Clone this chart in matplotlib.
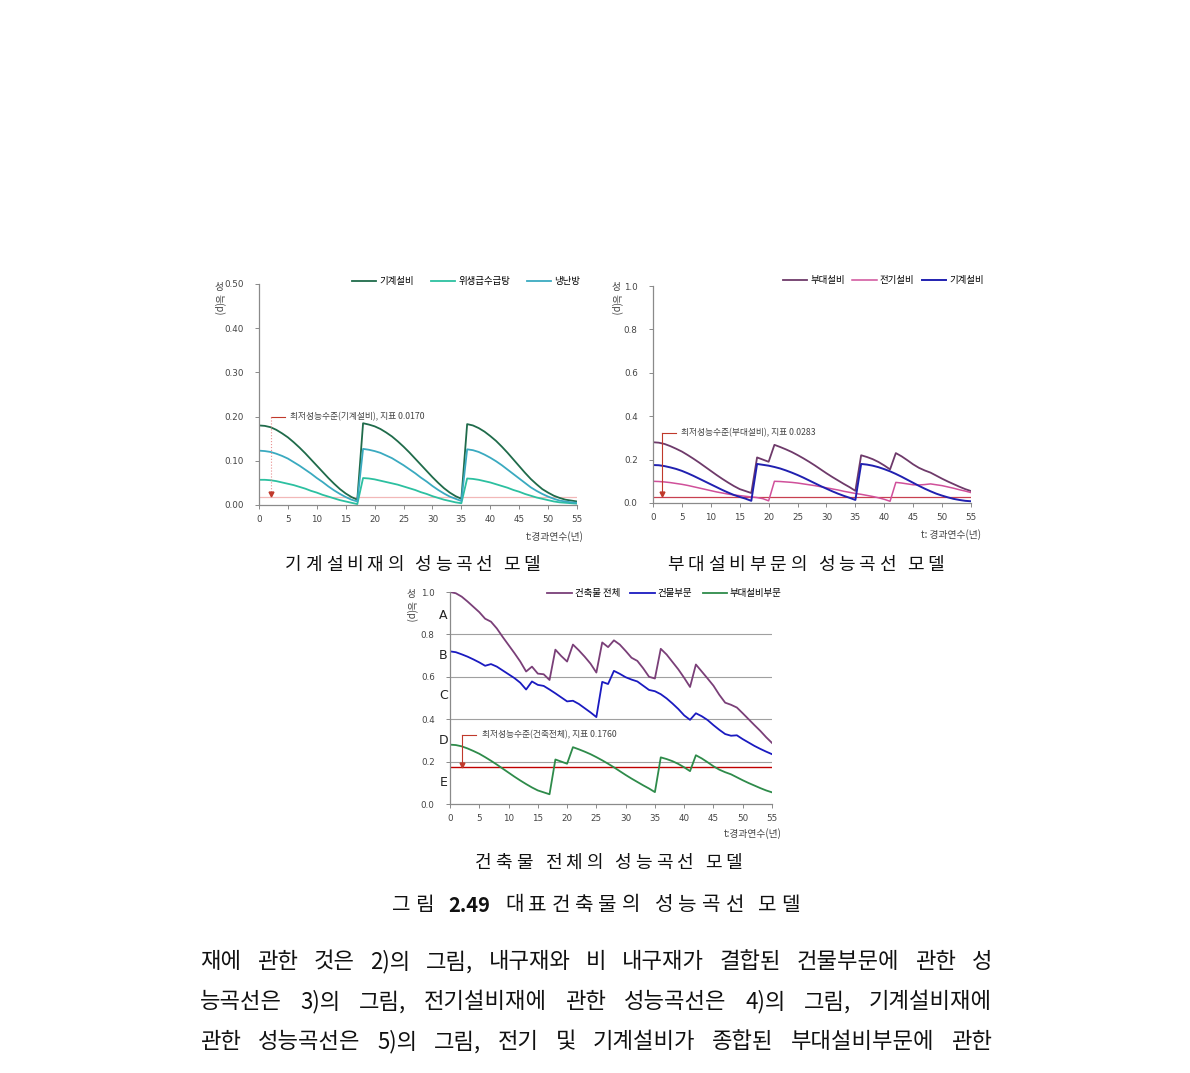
import matplotlib
matplotlib.use("Agg")
import matplotlib.pyplot as plt

plt.rcParams['font.family'] = ['Noto Sans CJK KR', 'DejaVu Sans']

W, H = 1190, 1073

years = list(range(56))

# chart 1: 기계설비재
mech1 = [0.180, 0.179, 0.176, 0.170, 0.162, 0.153, 0.142, 0.130, 0.117, 0.103,
         0.089, 0.075, 0.061, 0.048, 0.036, 0.026, 0.018, 0.012,
         0.185, 0.182, 0.178, 0.172, 0.164, 0.155, 0.144, 0.132, 0.119, 0.105,
         0.091, 0.077, 0.063, 0.050, 0.038, 0.028, 0.020, 0.014,
         0.183, 0.180, 0.174, 0.166, 0.156, 0.145, 0.132, 0.118, 0.103, 0.088,
         0.073, 0.059, 0.047, 0.036, 0.028, 0.021, 0.016, 0.012, 0.010, 0.008]
hvac1 = [0.123, 0.122, 0.120, 0.116, 0.111, 0.105, 0.097, 0.089, 0.080, 0.071,
         0.061, 0.052, 0.042, 0.033, 0.025, 0.018, 0.012, 0.008,
         0.127, 0.125, 0.122, 0.118, 0.112, 0.106, 0.098, 0.090, 0.081, 0.072,
         0.062, 0.053, 0.043, 0.034, 0.026, 0.019, 0.014, 0.009,
         0.126, 0.124, 0.120, 0.114, 0.107, 0.099, 0.090, 0.080, 0.070, 0.060,
         0.050, 0.040, 0.032, 0.025, 0.019, 0.014, 0.010, 0.008, 0.006, 0.005]
sani1 = [0.057, 0.057, 0.056, 0.054, 0.051, 0.048, 0.045, 0.041, 0.037, 0.032,
         0.028, 0.023, 0.019, 0.015, 0.011, 0.008, 0.005, 0.002,
         0.061, 0.060, 0.058, 0.055, 0.052, 0.049, 0.046, 0.042, 0.038, 0.034,
         0.029, 0.025, 0.020, 0.016, 0.012, 0.009, 0.006, 0.004,
         0.060, 0.059, 0.057, 0.054, 0.051, 0.047, 0.043, 0.039, 0.034, 0.030,
         0.025, 0.021, 0.017, 0.014, 0.011, 0.008, 0.006, 0.005, 0.004, 0.003]

# chart 2: 부대설비부문
elec2 = [0.100, 0.099, 0.097, 0.094, 0.090, 0.086, 0.081, 0.075, 0.069, 0.063,
         0.057, 0.051, 0.046, 0.041, 0.037, 0.034, 0.031, 0.028, 0.025, 0.020,
         0.010, 0.100, 0.099, 0.097, 0.095, 0.092, 0.088, 0.084, 0.080, 0.075,
         0.070, 0.065, 0.060, 0.054, 0.049, 0.044, 0.040, 0.035, 0.030, 0.024,
         0.017, 0.008, 0.095, 0.092, 0.088, 0.084, 0.083, 0.085, 0.088, 0.084,
         0.080, 0.074, 0.068, 0.061, 0.055, 0.048]
mech2 = [0.175, 0.174, 0.170, 0.164, 0.157, 0.148, 0.137, 0.125, 0.112, 0.099,
         0.086, 0.073, 0.060, 0.048, 0.037, 0.028, 0.020, 0.010,
         0.180, 0.176, 0.172, 0.166, 0.159, 0.150, 0.140, 0.129, 0.117, 0.104,
         0.091, 0.078, 0.066, 0.054, 0.043, 0.033, 0.024, 0.014,
         0.180, 0.177, 0.172, 0.165, 0.156, 0.146, 0.134, 0.121, 0.107, 0.093,
         0.079, 0.066, 0.054, 0.043, 0.034, 0.026, 0.019, 0.014, 0.010, 0.008]
fac2 = [0.280, 0.278, 0.272, 0.262, 0.250, 0.237, 0.221, 0.204, 0.186, 0.167,
        0.148, 0.129, 0.111, 0.094, 0.078, 0.064, 0.055, 0.046,
        0.210, 0.200, 0.190, 0.268, 0.258, 0.247, 0.235, 0.221, 0.206, 0.190,
        0.173, 0.155, 0.137, 0.120, 0.104, 0.088, 0.073, 0.056,
        0.220, 0.212, 0.202, 0.189, 0.173, 0.155, 0.230, 0.215, 0.197, 0.178,
        0.162, 0.150, 0.140, 0.126, 0.112, 0.099, 0.087, 0.075, 0.064, 0.055]

# chart 3: 건축물 전체
total3 = [1.000, 0.994, 0.978, 0.955, 0.930, 0.905, 0.874, 0.860, 0.828, 0.788,
          0.750, 0.712, 0.672, 0.625, 0.648, 0.615, 0.612, 0.585, 0.728, 0.698,
          0.672, 0.752, 0.725, 0.695, 0.662, 0.620, 0.762, 0.740, 0.772, 0.752,
          0.722, 0.690, 0.675, 0.640, 0.600, 0.592, 0.732, 0.705, 0.670, 0.635,
          0.595, 0.552, 0.658, 0.625, 0.592, 0.558, 0.515, 0.478, 0.468, 0.455,
          0.428, 0.400, 0.372, 0.345, 0.315, 0.288]
bldg3 = [0.720, 0.716, 0.706, 0.695, 0.682, 0.668, 0.652, 0.660, 0.648, 0.630,
         0.612, 0.594, 0.572, 0.540, 0.578, 0.562, 0.557, 0.540, 0.522, 0.503,
         0.484, 0.487, 0.472, 0.452, 0.432, 0.410, 0.576, 0.566, 0.628, 0.614,
         0.598, 0.587, 0.578, 0.558, 0.538, 0.532, 0.518, 0.498, 0.474, 0.448,
         0.418, 0.397, 0.428, 0.414, 0.396, 0.372, 0.350, 0.330, 0.322, 0.324,
         0.306, 0.290, 0.274, 0.260, 0.247, 0.235]
fac3 = fac2

xticks = list(range(0, 56, 5))

fig = plt.figure(figsize=(W / 100, H / 100), dpi=100)


def px_axes(l, r, b, t):
    return fig.add_axes([l / W, 1 - b / H, (r - l) / W, (b - t) / H])


def style(ax, ymax, yticks, fmt):
    ax.set_xlim(0, 55)
    ax.set_ylim(0, ymax)
    ax.set_xticks(xticks)
    ax.set_yticks(yticks)
    ax.set_yticklabels([fmt.format(v) for v in yticks])
    for s in ['top', 'right']:
        ax.spines[s].set_visible(False)
    for s in ['left', 'bottom']:
        ax.spines[s].set_color('#8a8a8a')
        ax.spines[s].set_linewidth(0.9)
    ax.tick_params(length=3, width=0.7, color='#8a8a8a', labelsize=6.3,
                   labelcolor='#444444', labelfontfamily='DejaVu Sans')
    ax.tick_params(axis='y', pad=8)
    ax.tick_params(axis='x', pad=4)
    ax.patch.set_alpha(0)


def ylab(x, y):
    # first syllable upright, the rest turned like the source
    fig.text(x / W, 1 - y / H, '성', fontsize=7, color='#444444',
             ha='center', va='top')
    fig.text(x / W, 1 - (y + 12) / H, '능(p)', rotation=270, fontsize=7,
             color='#444444', ha='center', va='top')


def xlab(x, y, s):
    fig.text(x / W, 1 - y / H, s, fontsize=7, color='#444444',
             ha='right', va='center')


def marker_note(ax, xt, yt, ybot, text, vls='-', vcol='#c0392b'):
    ax.plot([xt + 2.5, xt], [yt, yt], color='#c0392b', lw=0.8)
    ax.plot([xt, xt], [yt, ybot], color=vcol, lw=0.8, ls=vls)
    ax.plot([xt], [ybot], marker='v', color='#c0392b', ms=3.5)
    ax.text(xt + 3.4, yt, text, fontsize=6.3, color='#444444', va='center')


# ---- chart 1 ----
ax1 = px_axes(259, 577, 505, 284)
style(ax1, 0.5, [0, 0.1, 0.2, 0.3, 0.4, 0.5], '{:.2f}')
ax1.axhline(0.017, color='#f2b8b8', lw=0.9)
ax1.plot(years, mech1, color='#1f6b4a', lw=1.3, label='기계설비')
ax1.plot(years, sani1, color='#2cc0a0', lw=1.3, label='위생급수급탕')
ax1.plot(years, hvac1, color='#3aaac0', lw=1.3, label='냉난방')
marker_note(ax1, 2.0, 0.20, 0.025, '최저성능수준(기계설비), 지표 0.0170',
            vls=':', vcol='#e89090')
ax1.legend(loc='upper right', bbox_to_anchor=(1.01, 1.03), ncol=3, frameon=False,
           fontsize=6.8, handlelength=2.6, columnspacing=1.8, handletextpad=0.3,
           borderaxespad=0, borderpad=0)
ylab(219, 282)
xlab(584, 537, 't:경과연수(년)')

# ---- chart 2 ----
ax2 = px_axes(653, 971, 503, 286)
style(ax2, 1.0, [0, 0.2, 0.4, 0.6, 0.8, 1.0], '{:.1f}')
ax2.axhline(0.0283, color='#c84050', lw=0.9)
ax2.plot(years, fac2, color='#6e3a6a', lw=1.3, label='부대설비')
ax2.plot(years, elec2, color='#d0509a', lw=1.1, label='전기설비')
ax2.plot(years, mech2, color='#2020b0', lw=1.4, label='기계설비')
marker_note(ax2, 1.5, 0.323, 0.04, '최저성능수준(부대설비), 지표 0.0283')
ax2.legend(loc='upper right', bbox_to_anchor=(1.04, 1.045), ncol=3, frameon=False,
           fontsize=6.8, handlelength=2.6, columnspacing=0.8, handletextpad=0.3,
           borderaxespad=0, borderpad=0)
ylab(616, 282)
xlab(981, 535, 't: 경과연수(년)')

# ---- chart 3 ----
ax3 = px_axes(450, 772, 804, 592)
style(ax3, 1.0, [0, 0.2, 0.4, 0.6, 0.8, 1.0], '{:.1f}')
for g in [0.2, 0.4, 0.6, 0.8]:
    ax3.axhline(g, color='#a0a0a0', lw=0.8)
ax3.axhline(0.176, color='#c00000', lw=1.0)
ax3.plot(years, total3, color='#7a3f78', lw=1.3, label='건축물 전체')
ax3.plot(years, bldg3, color='#1a1ac0', lw=1.3, label='건물부문')
ax3.plot(years, fac3, color='#2e8b4a', lw=1.3, label='부대설비부문')
marker_note(ax3, 2.0, 0.325, 0.185, '최저성능수준(건축전체), 지표 0.1760')
ax3.legend(loc='upper right', bbox_to_anchor=(1.03, 1.015), ncol=3, frameon=False,
           fontsize=6.8, handlelength=2.6, columnspacing=1.1, handletextpad=0.3,
           borderaxespad=0, borderpad=0)
for letter, yv in zip('ABCDE', [0.89, 0.70, 0.51, 0.30, 0.10]):
    ax3.text(-0.02, yv, letter, transform=ax3.get_yaxis_transform(),
             fontsize=9, color='#222222', ha='center', va='center',
             family='DejaVu Sans')
ylab(411, 589)
xlab(782, 834, 't:경과연수(년)')

# ---- captions and body text ----
renderer = fig.canvas.get_renderer()


def spread(tokens, gaps, x0, x1, y, size, weights=None):
    texts = []
    for i, tok in enumerate(tokens):
        wt = weights[i] if weights else 'normal'
        texts.append(fig.text(0, 1 - y / H, tok, fontsize=size, va='center',
                              ha='left', color='#111111', fontweight=wt))
    widths = [t.get_window_extent(renderer).width for t in texts]
    unit = (x1 - x0 - sum(widths)) / sum(gaps)
    x = x0
    for i, (t, w) in enumerate(zip(texts, widths)):
        if i > 0:
            x += gaps[i - 1] * unit
        t.set_x(x / W)
        x += w


def caption(s, x0, x1, y, size):
    tokens, gaps, weights = [], [], []
    for word in s.split():
        parts = [word] if word.isascii() else list(word)
        for pi, p in enumerate(parts):
            if tokens:
                gaps.append(3.0 if pi == 0 else 1.0)
            tokens.append(p)
            weights.append('bold' if word.isascii() else 'normal')
    spread(tokens, gaps, x0, x1, y, size, weights)


def justified(s, x0, x1, y, size):
    words = s.split()
    spread(words, [1.0] * (len(words) - 1), x0, x1, y, size)


caption('기계설비재의 성능곡선 모델', 285, 540, 565, 13)
caption('부대설비부문의 성능곡선 모델', 667, 944, 565, 13)
caption('건축물 전체의 성능곡선 모델', 475, 742, 863, 13)
caption('그림 2.49 대표건축물의 성능곡선 모델', 392, 800, 905, 14.5)

justified('재에 관한 것은 2)의 그림, 내구재와 비 내구재가 결합된 건물부문에 관한 성',
          200, 992, 962, 16)
justified('능곡선은 3)의 그림, 전기설비재에 관한 성능곡선은 4)의 그림, 기계설비재에',
          200, 992, 1002, 16)
justified('관한 성능곡선은 5)의 그림, 전기 및 기계설비가 종합된 부대설비부문에 관한',
          200, 992, 1042, 16)

fig.savefig('out.png', dpi=100)
